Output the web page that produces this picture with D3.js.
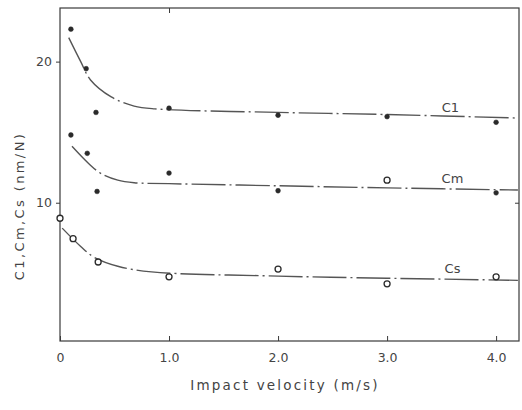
<!DOCTYPE html>
<html>
<head>
<meta charset="utf-8">
<script src="https://cdn.jsdelivr.net/npm/d3@7"></script>
<style>
	body { margin: 0; background: #fff; }
	svg text { font-family: "DejaVu Sans", sans-serif; fill: #444; }
</style>
</head>
<body>
<svg id="canvas" width="522" height="410"></svg>
<script>
'use strict';

const c1Points = [[0.10, 22.3], [0.24, 19.5], [0.33, 16.4], [1.0, 16.7], [2.0, 16.2], [3.0, 16.1], [4.0, 15.7]];
const cmPoints = [[0.10, 14.8], [0.25, 13.5], [0.34, 10.8], [1.0, 12.1], [2.0, 10.85], [3.0, 11.6], [4.0, 10.7]];
const cmOpen = [false, false, false, false, false, true, false];
const csPoints = [[0.0, 8.9], [0.12, 7.45], [0.35, 5.8], [1.0, 4.75], [2.0, 5.3], [3.0, 4.25], [4.0, 4.75]];

// fitted curves as drawn
const c1Curve = [[0.08, 21.7], [0.19, 20.0], [0.28, 18.7], [0.47, 17.5], [0.68, 16.85], [0.87, 16.65], [2.0, 16.4], [3.0, 16.25], [4.2, 16.0]];
const cmCurve = [[0.11, 14.0], [0.26, 12.8], [0.37, 12.1], [0.53, 11.6], [0.68, 11.42], [1.0, 11.35], [2.0, 11.2], [3.0, 11.05], [4.2, 10.9]];
const csCurve = [[0.02, 8.2], [0.19, 6.9], [0.31, 6.15], [0.53, 5.5], [0.84, 5.1], [2.0, 4.8], [3.0, 4.65], [4.2, 4.5]];

const seriesLabels = ['C1', 'Cm', 'Cs'];
const labelAt = [[3.58, 16.4], [3.6, 11.4], [3.6, 5.0]];

const xTicks = [0, 1, 2, 3, 4];
const xTickLabels = ['0', '1.0', '2.0', '3.0', '4.0'];
const yTicks = [10, 20];

const margin = {top: 8, right: 3, bottom: 69, left: 60};
const width = 522, height = 410;

const svg = d3.select('#canvas');

const x = d3.scaleLinear()
	.domain([0, 4.21])
	.range([margin.left, width - margin.right]);
const y = d3.scaleLinear()
	.domain([0.2, 23.8])
	.range([height - margin.bottom, margin.top]);

const ink = '#3a3a3a';

// frame
svg.append('rect')
	.attr('x', x(0)).attr('y', y(23.8))
	.attr('width', x(4.21) - x(0)).attr('height', y(0.2) - y(23.8))
	.attr('fill', 'none').attr('stroke', ink).attr('stroke-width', 1.2);

// bottom axis, ticks pointing up
const xAxis = d3.axisBottom(x).tickValues(xTicks)
	.tickFormat((d, i) => xTickLabels[i]).tickSize(-5).tickPadding(12);
svg.append('g')
	.attr('transform', 'translate(0,' + y(0.2) + ')')
	.call(xAxis)
	.call(g => g.select('.domain').remove())
	.call(g => g.selectAll('.tick line').attr('stroke', ink))
	.call(g => g.selectAll('.tick text').attr('font-size', 12.5).style('fill', '#444'));

// top axis ticks
svg.append('g')
	.attr('transform', 'translate(0,' + y(23.8) + ')')
	.call(d3.axisTop(x).tickValues([1]).tickSize(-5).tickFormat(''))
	.call(g => g.select('.domain').remove())
	.call(g => g.selectAll('.tick line').attr('stroke', ink));

// left axis
svg.append('g')
	.attr('transform', 'translate(' + x(0) + ',0)')
	.call(d3.axisLeft(y).tickValues(yTicks).tickSize(4).tickPadding(4))
	.call(g => g.select('.domain').remove())
	.call(g => g.selectAll('.tick line').attr('stroke', ink))
	.call(g => g.selectAll('.tick text').attr('font-size', 12.5).style('fill', '#444'));

// right axis tick
svg.append('g')
	.attr('transform', 'translate(' + x(4.21) + ',0)')
	.call(d3.axisRight(y).tickValues([10]).tickSize(-4).tickFormat(''))
	.call(g => g.select('.domain').remove())
	.call(g => g.selectAll('.tick line').attr('stroke', ink));

// curves
const line = d3.line()
	.x(d => x(d[0]))
	.y(d => y(d[1]))
	.curve(d3.curveCatmullRom.alpha(0.5));

[c1Curve, cmCurve, csCurve].forEach(c => {
	svg.append('path')
		.datum(c)
		.attr('d', line)
		.attr('fill', 'none')
		.attr('stroke', '#555')
		.attr('stroke-width', 1.4)
		.attr('stroke-dasharray', '34,4,2,4');
});

// markers
const drawPoints = (pts, openFn) => {
	svg.append('g').selectAll('circle')
		.data(pts)
		.join('circle')
			.attr('cx', d => x(d[0]))
			.attr('cy', d => y(d[1]))
			.attr('r', (d, i) => openFn(i) ? 3 : 2.4)
			.attr('fill', (d, i) => openFn(i) ? '#fff' : '#2a2a2a')
			.attr('stroke', '#2a2a2a')
			.attr('stroke-width', (d, i) => openFn(i) ? 1.3 : 0.5);
};
drawPoints(c1Points, () => false);
drawPoints(cmPoints, i => cmOpen[i]);
drawPoints(csPoints, () => true);

// series labels
svg.append('g').selectAll('text')
	.data(seriesLabels)
	.join('text')
		.attr('x', (d, i) => x(labelAt[i][0]))
		.attr('y', (d, i) => y(labelAt[i][1]))
		.attr('text-anchor', 'middle')
		.attr('font-size', 13)
		.text(d => d);

// axis titles
svg.append('text')
	.attr('transform', 'translate(24,206) rotate(-90)')
	.attr('text-anchor', 'middle')
	.attr('font-size', 13)
	.attr('letter-spacing', 2.4)
	.text('C1,Cm,Cs (nm/N)');

svg.append('text')
	.attr('x', 285)
	.attr('y', 390)
	.attr('text-anchor', 'middle')
	.attr('font-size', 13.5)
	.attr('letter-spacing', 2.2)
	.text('Impact velocity (m/s)');
</script>
</body>
</html>
